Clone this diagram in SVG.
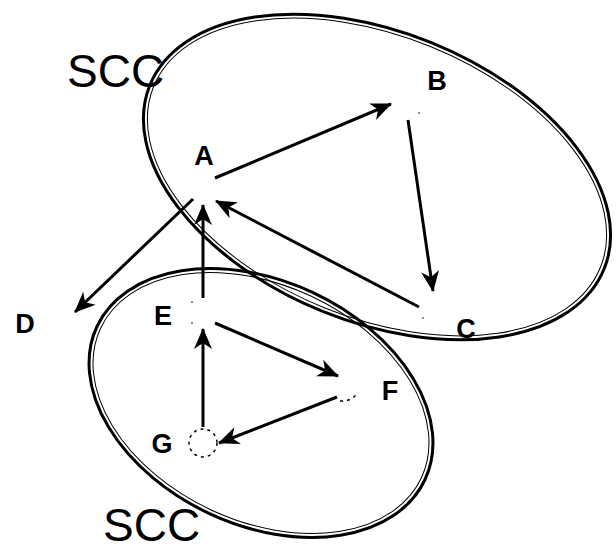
<svg xmlns="http://www.w3.org/2000/svg" width="616" height="552" viewBox="0 0 616 552">
<defs>
<style>
.outer{fill:none;stroke:#000;stroke-width:3}
.inner{fill:none;stroke:#000;stroke-width:1}
.edge{fill:none;stroke:#000;stroke-width:3;marker-end:url(#ah)}
.lbl{font-family:"Liberation Sans",Arial,sans-serif;font-weight:bold;font-size:27px;text-anchor:middle;fill:#000}
.scc{font-family:"Liberation Sans",Arial,sans-serif;font-size:46px;fill:#000}
.dot{fill:none;stroke:#000;stroke-width:1.5;stroke-dasharray:3 4}
</style>
<marker id="ah" markerUnits="userSpaceOnUse" viewBox="-21 -10 23 20" refX="0" refY="0" markerWidth="23" markerHeight="20" orient="auto">
<path d="M1,0 L-20,-9 L-14,0 L-20,9 Z" fill="#000"/>
</marker>
</defs>
<g id="scc-top">
<ellipse class="outer" cx="377" cy="177" rx="245" ry="145" transform="rotate(22 377 177)"/>
<ellipse class="inner" cx="377" cy="177" rx="241" ry="141" transform="rotate(22 377 177)"/>
<text class="scc" x="67" y="87">SCC</text>
</g>
<g id="scc-bottom">
<ellipse class="outer" cx="261" cy="403" rx="181" ry="122" transform="rotate(25 261 403)"/>
<ellipse class="inner" cx="261" cy="403" rx="177" ry="118" transform="rotate(25 261 403)"/>
<text class="scc" x="103" y="541" font-size="45">SCC</text>
</g>
<g id="connectors">
<line class="edge" x1="215" y1="178" x2="391" y2="104"/>
<line class="edge" x1="408" y1="120" x2="433" y2="291"/>
<line class="edge" x1="419" y1="307" x2="216" y2="201"/>
<line class="edge" x1="203" y1="298" x2="203" y2="205"/>
<line class="edge" x1="193" y1="199" x2="75" y2="312"/>
<line class="edge" x1="203" y1="427" x2="203" y2="329"/>
<line class="edge" x1="215" y1="323" x2="338" y2="376"/>
<line class="edge" x1="337" y1="397" x2="219" y2="443"/>
</g>
<g id="node-A"><text class="lbl" x="204" y="165">A</text></g>
<g id="node-B"><text class="lbl" x="437" y="90">B</text><circle cx="419" cy="113" r="0.8" fill="#000"/></g>
<g id="node-C"><text class="lbl" x="466" y="338">C</text><circle cx="423" cy="318" r="0.8" fill="#000"/></g>
<g id="node-D"><text class="lbl" x="25" y="333">D</text></g>
<g id="node-E"><text class="lbl" x="163" y="325">E</text><circle cx="192" cy="302" r="0.8" fill="#000"/><circle cx="192" cy="323" r="0.8" fill="#000"/></g>
<g id="node-F"><text class="lbl" x="390" y="400">F</text><path class="dot" d="M340,401 Q350,402 357,394"/></g>
<g id="node-G"><text class="lbl" x="162" y="453">G</text><circle class="dot" cx="203" cy="443" r="14"/></g>
</svg>
